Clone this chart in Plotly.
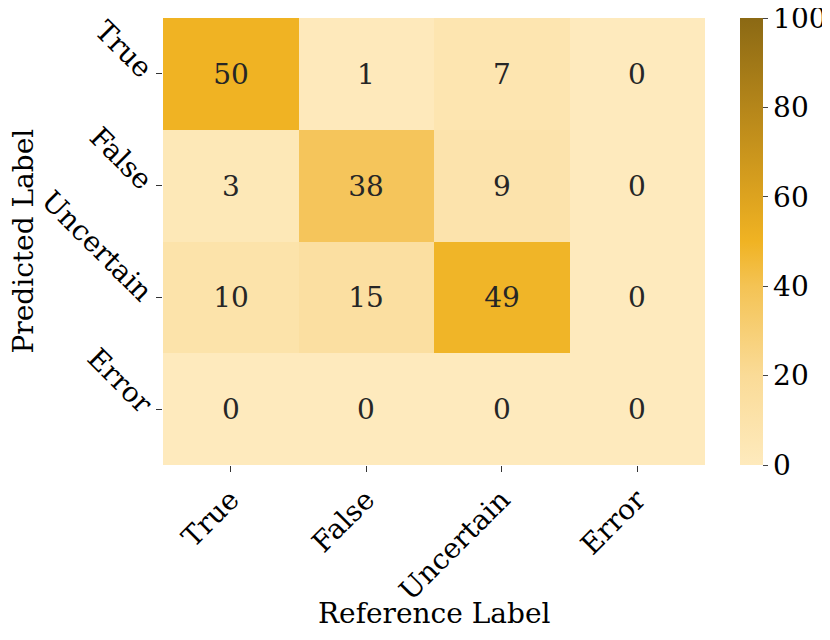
import plotly.graph_objects as go

labels = ["True", "False", "Uncertain", "Error"]
matrix = [
    [50, 1, 7, 0],
    [3, 38, 9, 0],
    [10, 15, 49, 0],
    [0, 0, 0, 0],
]
cbar_ticks = [0, 20, 40, 60, 80, 100]

colorscale = [
    [0.0, "#FEEABD"],
    [0.2, "#FADB97"],
    [0.4, "#F4C354"],
    [0.5, "#F0B323"],
    [0.6, "#DDA31F"],
    [0.8, "#B5861A"],
    [1.0, "#8B6914"],
]

font_family = "DejaVu Serif"
FS = 28

fig = go.Figure(
    go.Heatmap(
        z=matrix,
        x=labels,
        y=labels,
        zmin=0,
        zmax=100,
        colorscale=colorscale,
        text=[[str(v) for v in row] for row in matrix],
        texttemplate="%{text}",
        textfont=dict(family=font_family, size=FS, color="#262626"),
        xgap=0,
        ygap=0,
        colorbar=dict(
            x=(740 - 163) / 542,
            xanchor="left",
            y=0.5,
            yanchor="middle",
            len=1.0,
            lenmode="fraction",
            thickness=23,
            xpad=0,
            ypad=0,
            outlinewidth=0,
            tickvals=cbar_ticks,
            ticks="outside",
            ticklen=5,
            tickcolor="#444",
            ticklabeloverflow="allow",
            tickfont=dict(family=font_family, size=FS, color="black"),
        ),
        hoverinfo="skip",
    )
)

# page body has an 8px margin, so the figure is offset by 8px
fig.update_layout(
    width=822,
    height=632,
    margin=dict(l=155, r=125, t=10, b=175, autoexpand=False),
    plot_bgcolor="white",
    paper_bgcolor="white",
    font=dict(family=font_family, color="black"),
    annotations=[
        dict(
            text="Reference Label",
            xref="paper", yref="paper",
            x=0.5, y=-148 / 447,
            xanchor="center", yanchor="middle",
            showarrow=False,
            font=dict(family=font_family, size=FS, color="black"),
        ),
        dict(
            text="Predicted Label",
            xref="paper", yref="paper",
            x=-(163 - 23) / 542, y=0.5,
            xanchor="center", yanchor="middle",
            textangle=-90,
            showarrow=False,
            font=dict(family=font_family, size=FS, color="black"),
        ),
    ],
)
fig.update_xaxes(
    side="bottom",
    tickangle=-45,
    ticks="outside",
    ticklen=6,
    tickcolor="#333",
    automargin=False,
    tickfont=dict(family=font_family, size=FS, color="black"),
    showgrid=False,
    zeroline=False,
    showline=False,
)
fig.update_yaxes(
    autorange="reversed",
    tickangle=45,
    ticks="outside",
    ticklen=6,
    tickcolor="#333",
    automargin=False,
    tickfont=dict(family=font_family, size=FS, color="black"),
    showgrid=False,
    zeroline=False,
    showline=False,
)

fig.write_html("out.html")
